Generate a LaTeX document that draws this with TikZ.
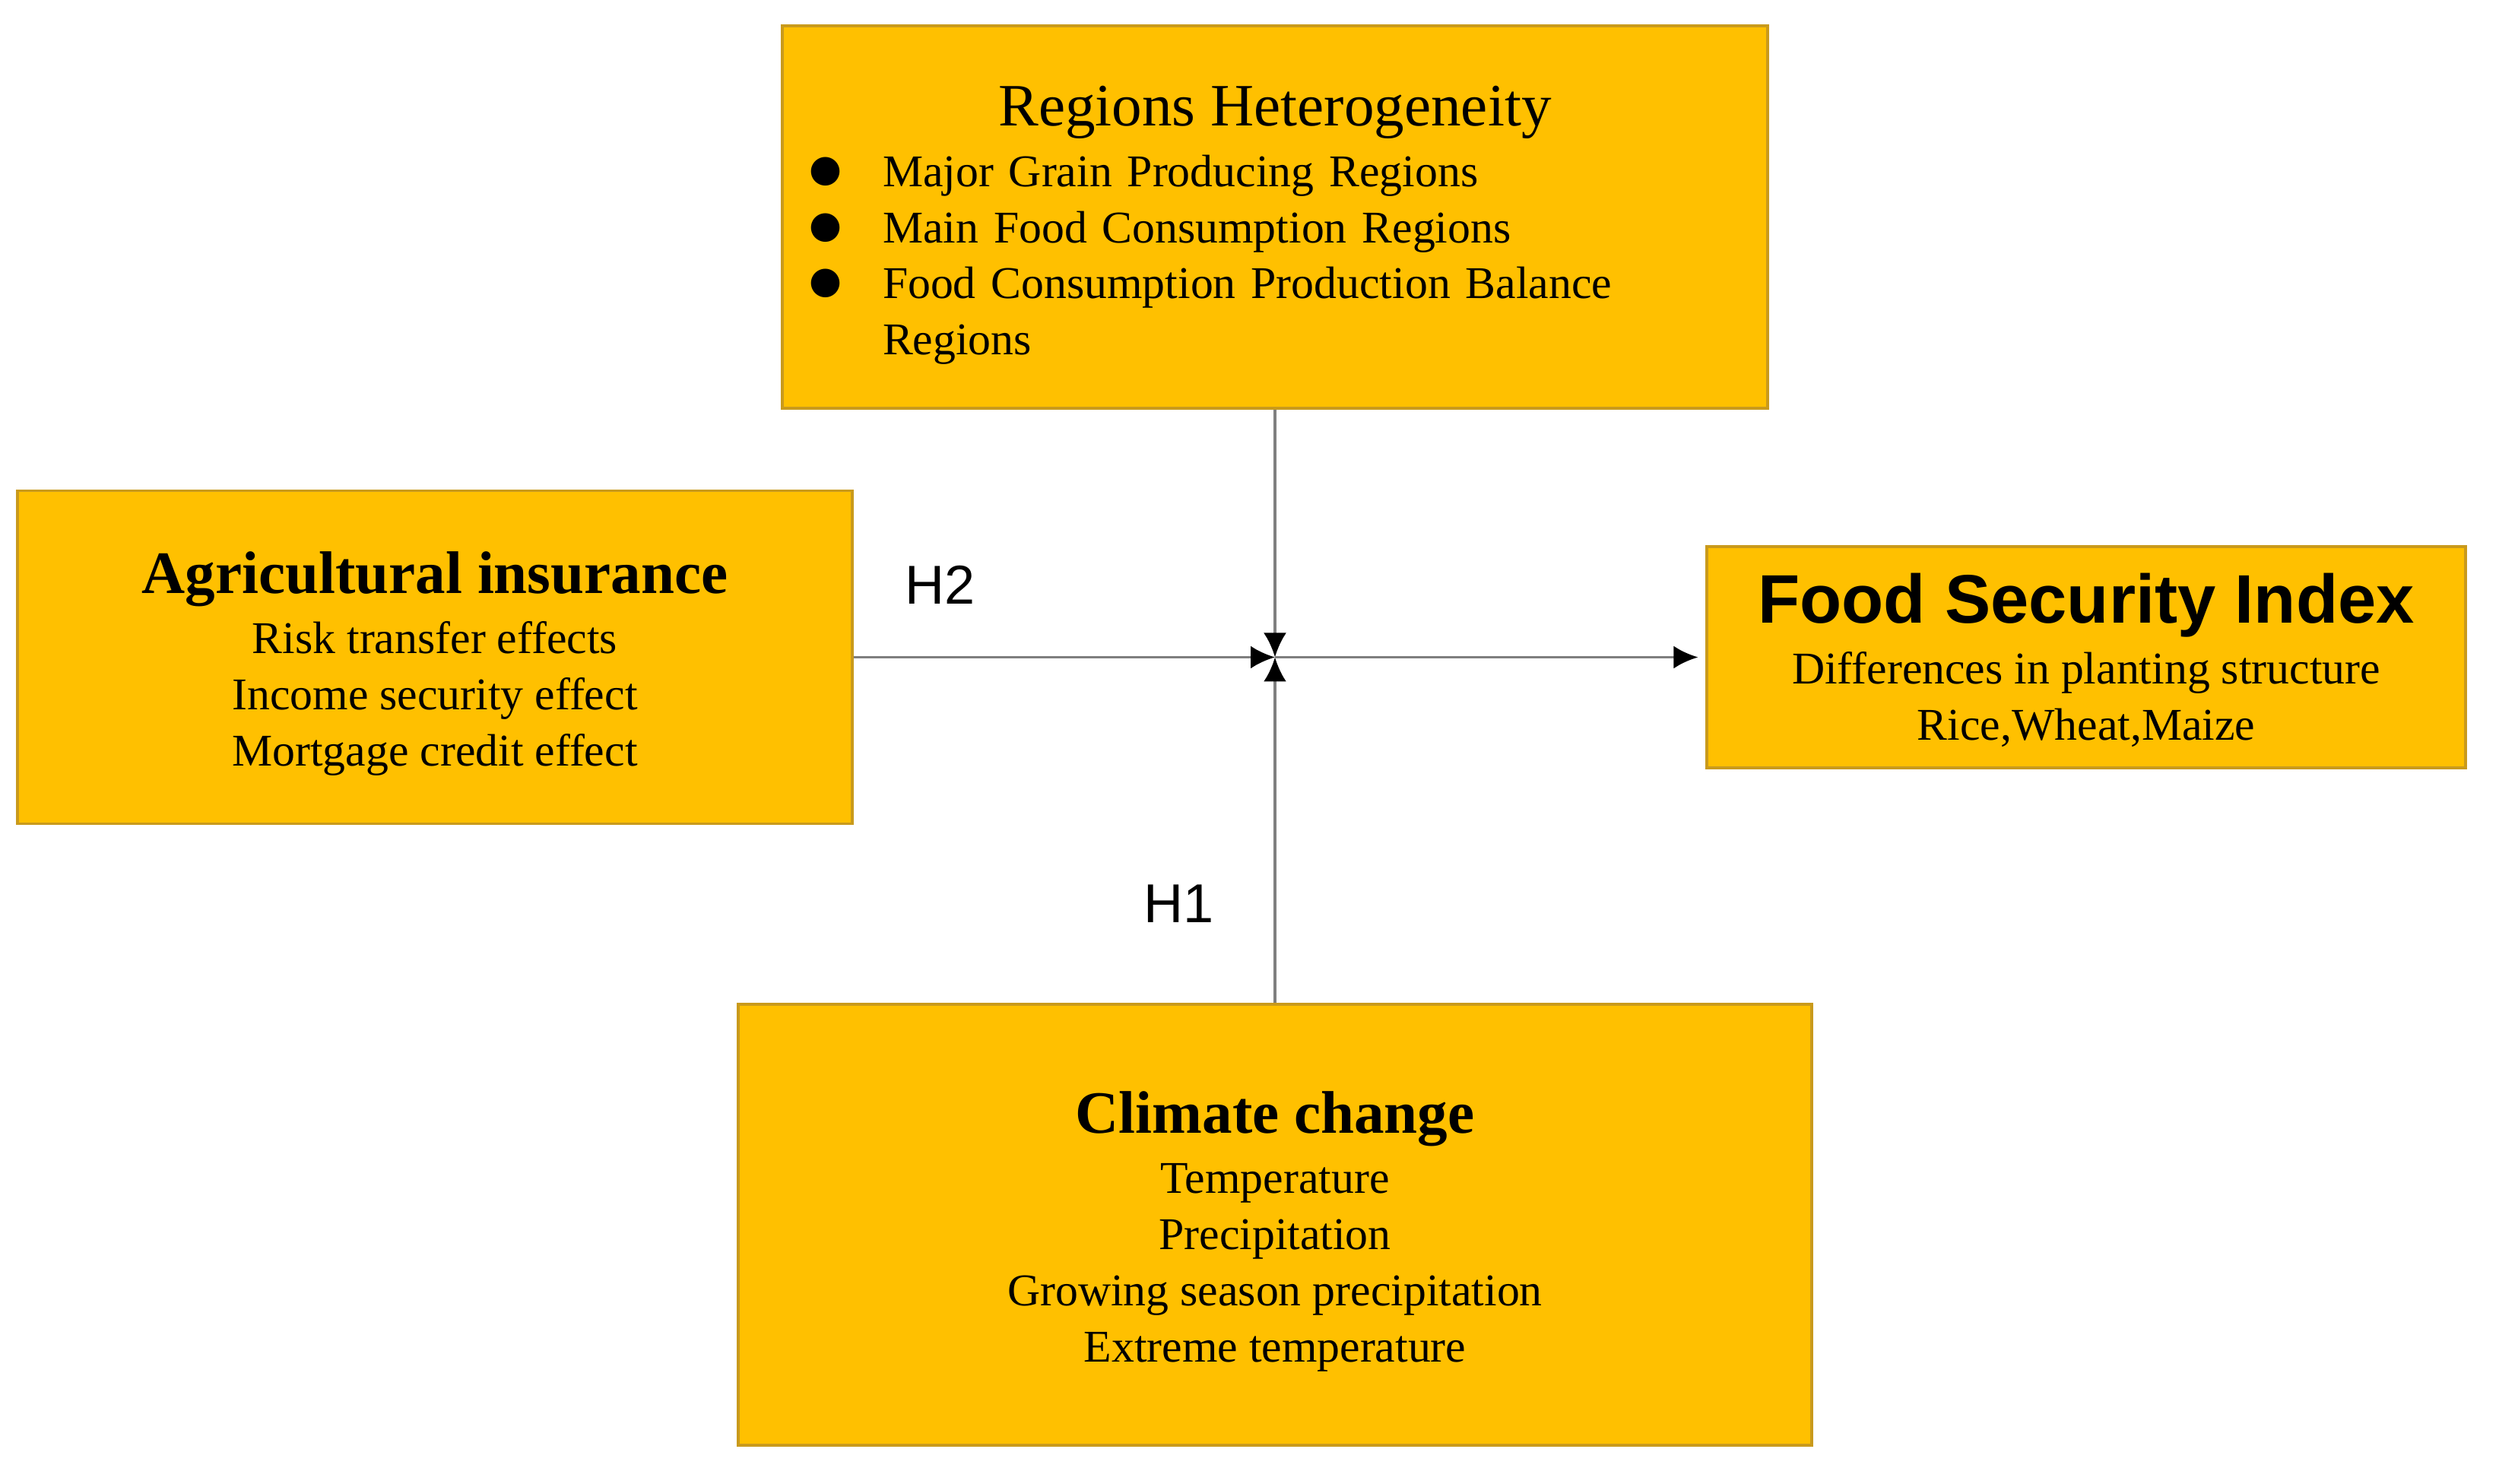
\documentclass[tikz,border=0pt]{standalone}
\usepackage{fontspec}
\setmainfont{Liberation Serif}
\setsansfont{Liberation Sans}
\newfontfamily\symfont{DejaVu Sans}
\usetikzlibrary{arrows.meta}

\definecolor{boxfill}{HTML}{FFC000}
\definecolor{boxline}{HTML}{C99A1C}
\definecolor{linkgray}{HTML}{7F7F7F}

\newcommand{\bodysize}{\fontsize{17}{21}\selectfont}
\newcommand{\headsize}{\fontsize{22.5}{26}\selectfont}
\newcommand{\blt}{\makebox[0.97cm][l]{\raisebox{2pt}{\symfont\fontsize{14}{21}\selectfont ●}}}

\tikzset{
	box/.style={draw=boxline, fill=boxfill, line width=0.9pt, inner sep=0pt, align=center, font=\bodysize},
	link/.style={draw=linkgray, line width=1.1pt, -{Latex[length=0.32cm,width=0.3cm,color=black]}},
	hyp/.style={font=\sffamily\fontsize{20.5}{24}\selectfont}
}

\begin{document}
\begin{tikzpicture}
				\useasboundingbox (0,0) rectangle (32.87,-19.52);
				
				% Boxes
				% Top
				\node[box, minimum width=12.96cm, minimum height=5.03cm, text width=12.96cm, align=left] (regions) at (16.77,-2.855) {%
					\makebox[12.96cm]{\headsize\rule{0pt}{21pt}Regions Heterogeneity}\\[1.8pt]
					\hspace*{0.35cm}\blt Major Grain Producing Regions\\
					\hspace*{0.35cm}\blt Main Food Consumption Regions\\
					\hspace*{0.35cm}\blt Food Consumption Production Balance\\
					\hspace*{1.32cm}Regions};
				
				% Left
				\node[box, minimum width=10.98cm, minimum height=4.38cm] (agri) at (5.72,-8.645) {{\headsize\bfseries\rule{0pt}{20.6pt}Agricultural insurance}\\[1.5pt] Risk transfer effects\\ Income security effect\\ Mortgage credit effect};
				
				% Right
				\node[box, minimum width=9.98cm, minimum height=2.91cm] (food) at (27.44,-8.645) {{\sffamily\bfseries\fontsize{25.7}{30}\selectfont\rule{0pt}{20.8pt}Food Security Index}\\[1.6pt] Differences in planting structure\\ Rice,Wheat,Maize};
				
				% Bottom
				\node[box, minimum width=14.12cm, minimum height=5.80cm] (climate) at (16.77,-16.11) {{\headsize\bfseries\rule{0pt}{20.6pt}Climate change}\\[1.5pt] Temperature\\ Precipitation\\ Growing season precipitation\\ Extreme temperature};
				
				% Arrows
				\coordinate (hub) at (16.77,-8.645);
				\draw[link] (agri.east) -- (hub);
				\draw[link] (regions.south) -- (hub);
				\draw[link] (climate.north) -- (hub);
				\draw[link, shorten >=0.1cm] (hub) -- (food.west);
				
				% Hypotheses
				\node[hyp] (h2) at (12.37,-7.69) {H2};
				\node[hyp] (h1) at (15.51,-11.89) {H1};
\end{tikzpicture}
\end{document}
